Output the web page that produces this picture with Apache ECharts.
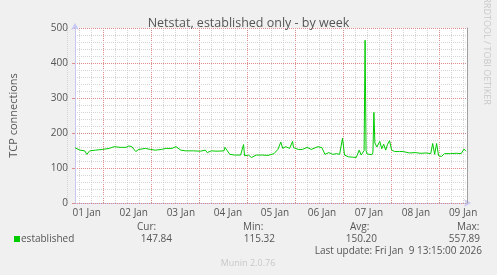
<!DOCTYPE html>
<html><head><meta charset="utf-8">
<script src="https://cdn.jsdelivr.net/npm/echarts@6/dist/echarts.min.js"></script>
<style>html,body{margin:0;padding:0;background:#f0f0f0;}#c{width:497px;height:275px;}</style>
</head><body><div id="c"></div>
<script>
const chartTitle = 'Netstat, established only - by week';
const yAxisName = 'TCP connections';
const seriesName = 'established';
const dayLabels = ['01 Jan','02 Jan','03 Jan','04 Jan','05 Jan','06 Jan','07 Jan','08 Jan','09 Jan'];
// hours since 01 Jan 00:00
const hours = [6,8.5,11,12,13.5,16.5,20,23.5,26,29,32,33.5,35,37,38.5,42,44.5,47,50,52.5,55.5,57.5,58.5,60,62.5,66.5,70,72.5,73.5,75.5,78.5,82,82.5,83.5,85,87.5,90.5,92,92.5,94.5,96,98.5,101.5,104.5,107.5,109.5,111,112,113.5,115.5,117,117.5,120,122,124.5,126.5,130,132,133.5,135.5,137.5,139.5,141,142.5,143.5,145.5,147.5,149.5,150,151,152,153,153.5,154,154.5,155,156,157.5,158,158.5,159,160,161.5,162.5,163.5,164.5,165.5,166.5,167.5,169,171.5,173.5,174.5,176.5,179.5,182.5,185,186,187.5,188.5,189.5,190.5,191.5,193,194.5,197.5,200.5,203,204.5,205.5];
const established = [158,151,149,139,149,151,153,156,161,159,159,163,161,147,153,156,153,151,153,156,156,161,161,151,149,149,148,151,144,149,148,149,159,151,139,137,137,167,135,137,130,137,137,136,141,153,174,156,161,156,176,158,153,153,159,153,161,158,139,144,139,141,139,185,137,132,131,130,127,151,137,140,150,465,150,140,135,138,145,259,172,160,176,155,168,151,168,178,152,147,147,147,149,143,144,142,143,139,141,170,139,170,135,133,141,141,142,141,154,148];
const statHeaders = ['Cur:','Min:','Avg:','Max:'];
const statValues = ['147.84','115.32','150.20','557.89'];
const lastUpdate = 'Last update: Fri Jan  9 13:15:00 2026';
const credit = 'RRDTOOL / TOBI OETIKER';
const footer = 'Munin 2.0.76';

const FF = "'Open Sans', sans-serif";
const TXT = '#555';
const MINOR = '#d4d4d4';
const MAJOR = '#e08c8c';
const AXIS = '#c8c8f4';

const headerX = [137, 243, 350, 457];
const valueRight = [172, 275, 377, 480];

const graphics = [
  {type:'rect', left:14, top:236, shape:{width:6, height:6}, style:{fill:'#00cc00'}},
  {type:'text', x:21, y:239, style:{text:seriesName, font:'10px '+FF, fill:TXT, textVerticalAlign:'middle'}},
  {type:'text', x:482, y:251, style:{text:lastUpdate, font:'10px '+FF, fill:TXT, textAlign:'right', textVerticalAlign:'middle'}},
  {type:'text', x:248, y:263, style:{text:footer, font:'9px '+FF, fill:'#c8c8c8', textAlign:'center', textVerticalAlign:'middle'}},
  {type:'text', x:487, y:51, rotation:-Math.PI/2, style:{text:credit, font:'9px '+FF, fill:'#c8c8c8', textAlign:'center', textVerticalAlign:'middle'}}
];
statHeaders.forEach((h,i)=>{
  graphics.push({type:'text', x:headerX[i], y:227, style:{text:h, font:'10px '+FF, fill:TXT, textVerticalAlign:'middle'}});
  graphics.push({type:'text', x:valueRight[i], y:239, style:{text:statValues[i], font:'10px '+FF, fill:TXT, textAlign:'right', textVerticalAlign:'middle'}});
});

const hidden = {axisLine:{show:false}, axisTick:{show:false}, axisLabel:{show:false}};
const dotted = c => ({color:c, type:[1,1], width:1});

const chart = echarts.init(document.getElementById('c'), null, {renderer:'canvas'});
chart.setOption({
  backgroundColor:'#f0f0f0',
  animation:false,
  title:{text:chartTitle, left:'center', top:12, textStyle:{fontSize:12.5, fontWeight:'normal', color:TXT, fontFamily:FF}},
  grid:[
    {left:67, top:28, width:400, height:175, show:true, backgroundColor:'#ffffff', borderWidth:0},
    // same time scale (2 px per hour) for the grid lines:
    {left:103, top:28, width:336, height:175, show:false},  // 02 Jan 00:00 .. 09 Jan 00:00
    {left:67, top:28, width:24, height:175, show:false},    // 01 Jan 06:00 .. 18:00
    {left:451, top:28, width:16, height:175, show:false}    // 09 Jan 06:00 .. end
  ],
  xAxis:[{
    type:'value', gridIndex:0, min:6, max:206, interval:6, z:0,
    axisLine:{show:true, onZero:false, lineStyle:{color:AXIS, width:1}, symbol:['none','arrow'], symbolSize:[6,7], symbolOffset:[0,4]},
    axisTick:{show:false},
    axisLabel:{show:true, margin:5, fontSize:10, color:TXT, fontFamily:FF, hideOverlap:false,
      formatter:function(v){ const d=(v-12)/24; return (Number.isInteger(d) && d>=0 && d<dayLabels.length) ? dayLabels[d] : ''; }},
    splitLine:{show:false}
  },Object.assign({
    type:'value', gridIndex:1, min:24, max:192, interval:24, z:0,
    splitLine:{show:true, lineStyle:dotted(MAJOR)},
    minorTick:{show:false, splitNumber:4},
    minorSplitLine:{show:true, lineStyle:dotted(MINOR)}
  }, hidden),Object.assign({
    type:'value', gridIndex:2, min:6, max:18, interval:6, z:0,
    splitLine:{show:true, lineStyle:dotted(MINOR)}
  }, hidden),Object.assign({
    type:'value', gridIndex:3, min:198, max:206, interval:6, z:0,
    splitLine:{show:true, lineStyle:dotted(MINOR)}
  }, hidden)],
  yAxis:[{
    type:'value', gridIndex:0, min:0, max:500, interval:100, z:1,
    name:yAxisName, nameLocation:'middle', nameRotate:90, nameGap:56,
    nameTextStyle:{fontSize:11, color:TXT, fontFamily:FF},
    axisLine:{show:true, lineStyle:{color:AXIS, width:1}, symbol:['none','arrow'], symbolSize:[6,7], symbolOffset:[0,5]},
    axisTick:{show:true, length:3, lineStyle:{color:MAJOR}},
    axisLabel:{margin:7, fontSize:10, color:TXT, fontFamily:FF},
    splitLine:{show:true, lineStyle:dotted(MAJOR)},
    minorTick:{show:false, splitNumber:5},
    minorSplitLine:{show:true, lineStyle:dotted(MINOR)}
  },{
    type:'value', gridIndex:0, min:0, max:500, position:'right', z:2,
    axisLine:{show:true, lineStyle:{color:'#a0a0a0', width:1}},
    axisTick:{show:false}, axisLabel:{show:false}, splitLine:{show:false}
  },Object.assign({type:'value', gridIndex:1, min:0, max:1, splitLine:{show:false}}, hidden),
    Object.assign({type:'value', gridIndex:2, min:0, max:1, splitLine:{show:false}}, hidden),
    Object.assign({type:'value', gridIndex:3, min:0, max:1, splitLine:{show:false}}, hidden)],
  series:[{
    name:seriesName, type:'line', xAxisIndex:0, yAxisIndex:0, z:3,
    data:hours.map((h,i)=>[h, established[i]]),
    showSymbol:false, symbol:'none',
    lineStyle:{color:'#00cc00', width:1}, itemStyle:{color:'#00cc00'}
  }],
  graphic:graphics
});
</script></body></html>
